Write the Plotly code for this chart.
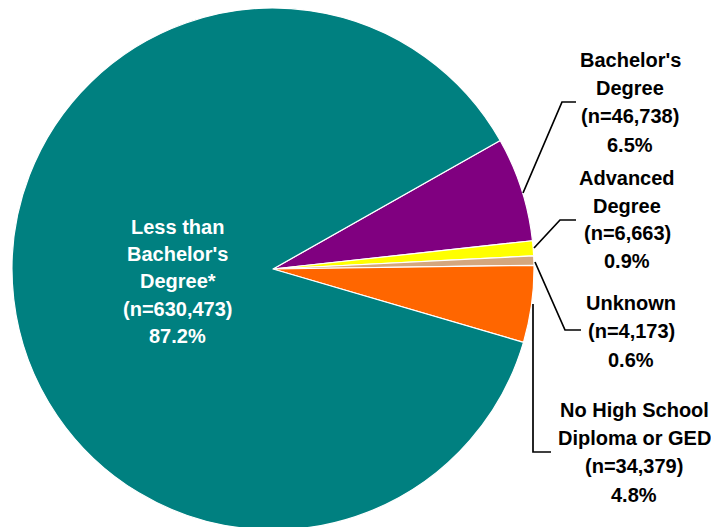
import plotly.graph_objects as go

W, H = 719, 527
OFF = 8  # the page body adds an 8px margin; compensate so positions match

# Data (clockwise from the top-right boundary)
categories = ["Bachelor's Degree", "Advanced Degree", "Unknown",
              "No High School Diploma or GED", "Less than Bachelor's Degree*"]
counts = [46738, 6663, 4173, 34379, 630473]
percent_labels = ["6.5%", "0.9%", "0.6%", "4.8%", "87.2%"]
count_labels = ["(n=46,738)", "(n=6,663)", "(n=4,173)", "(n=34,379)", "(n=630,473)"]
name_lines = [["Bachelor's", "Degree"], ["Advanced", "Degree"], ["Unknown"],
              ["No High School", "Diploma or GED"], ["Less than", "Bachelor's", "Degree*"]]
colors = ["#800080", "#FFFF00", "#D4A77E", "#FF6600", "#008080"]

# label layout (pixels): block centre x, first line y, line step, text colour
label_pos = [(630, 60, 28.2, "black"), (627, 178, 27.7, "black"), (631, 303, 28.3, "black"),
             (634, 410, 28.2, "black"), (177.5, 227, 27.2, "white")]

# leader lines in pixels
leaders = [
    [(523, 193), (562, 102), (576, 102)],
    [(534, 248), (560, 220), (576, 220)],
    [(535, 262), (565, 330), (581, 330)],
    [(533, 304), (533, 452), (551, 452)],
]

def px(x):
    return (x - OFF) / W

def py(y):
    return 1 - (y - OFF) / H

cx, cy, r = 273, 269, 261

fig = go.Figure(go.Pie(
    labels=categories,
    values=counts,
    sort=False,
    direction="clockwise",
    rotation=60.5,
    marker=dict(colors=colors, line=dict(color="white", width=1.2)),
    textinfo="none",
    hoverinfo="label+value+percent",
    domain=dict(x=[px(cx - r), px(cx + r)], y=[max(0, py(cy + r)), min(1, py(cy - r))]),
    showlegend=False,
))

annotations = []
for i in range(len(categories)):
    x, y0, step, col = label_pos[i]
    lines = name_lines[i] + [count_labels[i], percent_labels[i]]
    for k, t in enumerate(lines):
        annotations.append(dict(
            x=px(x), y=py(y0 + k * step), xref="paper", yref="paper",
            text="<b>" + t + "</b>", showarrow=False,
            xanchor="center", yanchor="middle",
            font=dict(family="Arial, Liberation Sans, sans-serif", size=20, color=col),
        ))

shapes = []
for pts in leaders:
    path = "M " + " L ".join(f"{px(a)},{py(b)}" for a, b in pts)
    shapes.append(dict(type="path", path=path, xref="paper", yref="paper",
                       line=dict(color="black", width=1.7)))

fig.update_layout(
    width=W, height=H,
    margin=dict(l=0, r=0, t=0, b=0),
    paper_bgcolor="white", plot_bgcolor="white",
    annotations=annotations, shapes=shapes,
)

fig.write_html("out.html")
